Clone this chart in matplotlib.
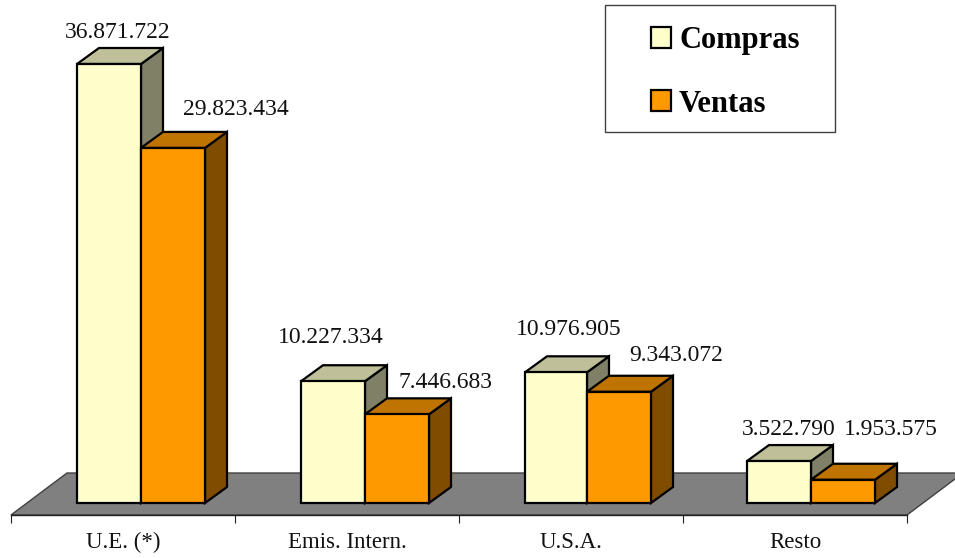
import matplotlib
matplotlib.use("Agg")
import matplotlib.pyplot as plt
from matplotlib.patches import Polygon, Rectangle, Patch

plt.rcParams['font.family'] = ['Liberation Serif', 'DejaVu Serif']

categories = ["U.E. (*)", "Emis. Intern.", "U.S.A.", "Resto"]
compras = [36871722, 10227334, 10976905, 3522790]
ventas = [29823434, 7446683, 9343072, 1953575]

# label offsets in pixels from the back top edge of each bar (hand placed in the original)
compras_label_dx = [9, -2, 13, 10]
compras_label_dy = [15, 28, 27, 16]
ventas_label_dx = [63, 49, 57, 48]
ventas_label_dy = [22, 16, 20, 34]
# the original rounds its bars to whole pixels unevenly
group_nudge = [0, 0, 0, -2]
compras_width = [64, 64, 62, 64]

W, H = 955, 558
X0_PX, CAT_PX = 11, 224
BASE_PX = 503
PER_PX = 36871722 / (503 - 64)
BAR_PX = 64
GAP_PX = 66
DEPTH_X, DEPTH_Y = 22, 16
LABEL_SIZE = 17
TICK_SIZE = 16.5


def xd(px):
    return px / CAT_PX


def yd(px):
    return px * PER_PX


def fmt(v):
    return f"{v:,}".replace(",", ".")


def bar3d(ax, left, width, value, front, top, side):
    w = xd(width)
    dx, dy = xd(DEPTH_X), yd(DEPTH_Y)
    style = dict(edgecolor="black", linewidth=1.6, joinstyle="miter")
    ax.add_patch(Polygon([(left + w, 0), (left + w + dx, dy), (left + w + dx, value + dy), (left + w, value)],
                         facecolor=side, zorder=3, **style))
    ax.add_patch(Polygon([(left, value), (left + dx, value + dy), (left + w + dx, value + dy), (left + w, value)],
                         facecolor=top, zorder=3, **style))
    ax.add_patch(Rectangle((left, 0), w, value, facecolor=front, zorder=3, **style))


def bar_label(ax, x, value, dx, dy):
    ax.annotate(fmt(value), (x, value + yd(DEPTH_Y)), xytext=(dx * 0.72, dy * 0.72), textcoords="offset points",
                ha="center", va="center", fontsize=LABEL_SIZE, color="#111111", zorder=5)


fig = plt.figure(figsize=(W / 100, H / 100), dpi=100)
ax = fig.add_axes([0, 0, 1, 1])
ax.set_xlim(xd(-X0_PX), xd(W - X0_PX))
ax.set_ylim(yd(BASE_PX - H), yd(BASE_PX))

# floor
ax.add_patch(Polygon([(0, yd(-12)), (4, yd(-12)), (4 + xd(56), yd(30)), (xd(56), yd(30))],
                     facecolor="#808080", edgecolor="#404040", linewidth=1.0, zorder=1))

for i in range(len(categories)):
    left = i + xd(GAP_PX + group_nudge[i])
    bw = xd(compras_width[i])
    bar3d(ax, left, compras_width[i], compras[i], "#FFFFCC", "#BFBF99", "#808066")
    bar3d(ax, left + bw, BAR_PX, ventas[i], "#FF9900", "#BF7300", "#804C00")
    bar_label(ax, left + bw / 2, compras[i], compras_label_dx[i], compras_label_dy[i])
    bar_label(ax, left + bw + xd(BAR_PX / 2), ventas[i], ventas_label_dx[i], ventas_label_dy[i])

# axis
for s in ["top", "left", "right"]:
    ax.spines[s].set_visible(False)
ax.spines["bottom"].set_position(("data", yd(-12)))
ax.spines["bottom"].set_bounds(0, 4)
ax.spines["bottom"].set_linewidth(1.0)
ax.spines["bottom"].set_color("#202020")
ax.patch.set_visible(False)
ax.set_yticks([])
ax.set_xticks(range(5))
ax.set_xticklabels([])
ax.tick_params(axis="x", which="major", length=5.8, width=0.8, color="#202020")
ax.set_xticks([i + 0.5 for i in range(4)], minor=True)
ax.set_xticklabels(categories, minor=True, fontsize=TICK_SIZE, color="#111111")
ax.tick_params(axis="x", which="minor", length=0, pad=12)

# legend box
fig.add_artist(Rectangle((605 / W, 1 - 132 / H), 230 / W, 127 / H, transform=fig.transFigure,
                         facecolor="white", edgecolor="#404040", linewidth=1.0, zorder=6))
handles = [Patch(facecolor="#FFFFCC", edgecolor="black", linewidth=1.6, label="Compras"),
           Patch(facecolor="#FF9900", edgecolor="black", linewidth=1.6, label="Ventas")]
leg = fig.legend(handles=handles, loc="upper left", bbox_to_anchor=(651 / W, 1 - 26 / H), frameon=False,
                 prop={"weight": "bold", "size": 22}, handlelength=0.67, handleheight=0.67,
                 handletextpad=0.25, labelspacing=1.13, borderpad=0, borderaxespad=0)
leg.set_zorder(7)

fig.savefig("out.png", dpi=100)
